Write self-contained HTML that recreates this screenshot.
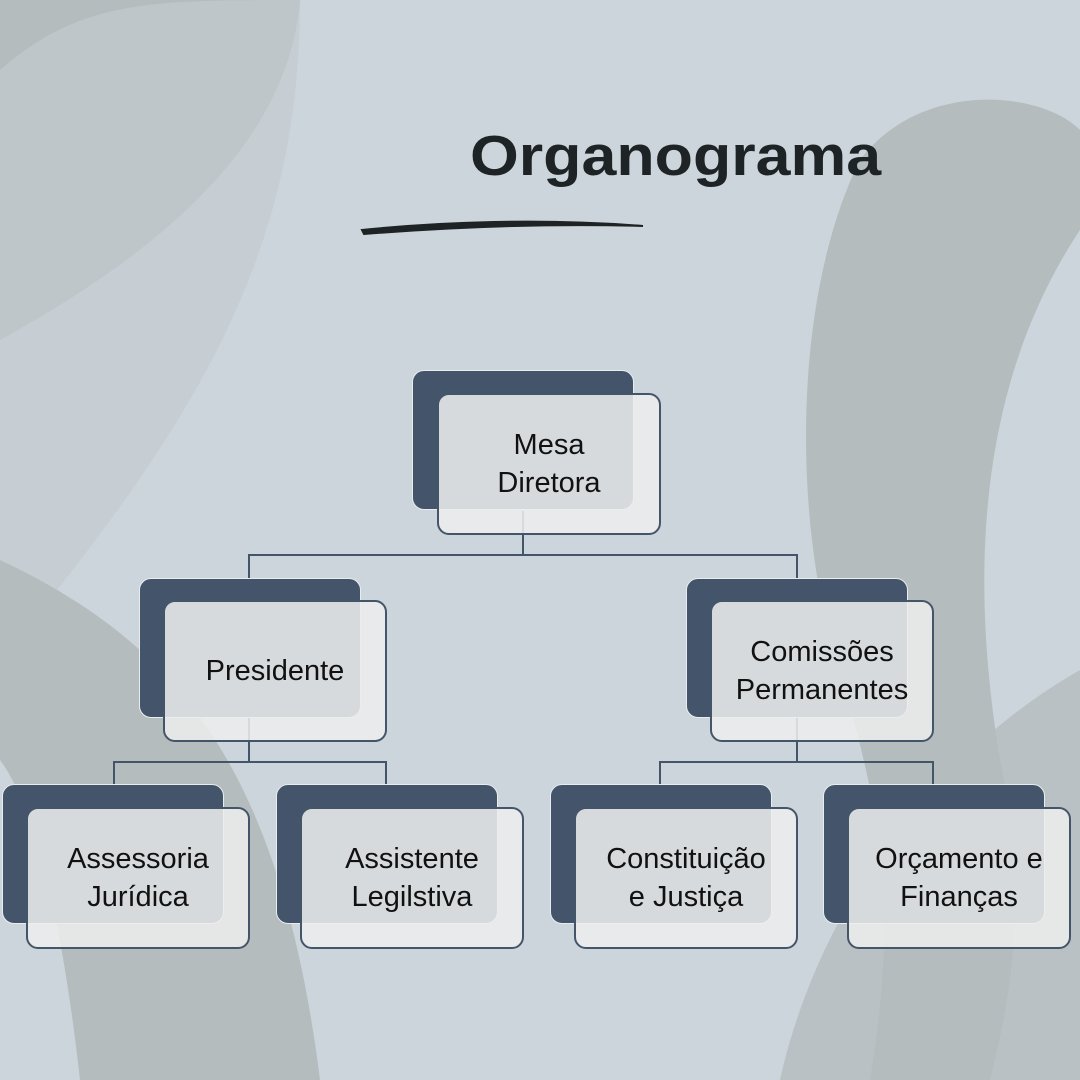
<!DOCTYPE html>
<html><head><meta charset="utf-8"><style>
html,body{margin:0;padding:0}
body{width:1080px;height:1080px;position:relative;overflow:hidden;background:#cdd5dc;font-family:"Liberation Sans",sans-serif}
svg{position:absolute;left:0;top:0}
.d{position:absolute;width:222px;height:140px;background:#44546a;border:1.5px solid #e8ecef;border-radius:12px;box-sizing:border-box}
.l{position:absolute;width:224px;height:142px;background:rgba(236,237,237,0.88);border:2px solid #445569;border-radius:12px;box-sizing:border-box;display:flex;align-items:center;justify-content:center;text-align:center;font-size:29px;line-height:38px;color:#111}
.t{position:absolute;left:470px;top:123px;font-size:57px;font-weight:bold;color:#1e2325;letter-spacing:0;transform:scaleX(1.1);transform-origin:left}
</style></head><body>
<svg width="1080" height="1080">
<path d="M0,0 L300,0 C290,120 200,230 0,340 Z" fill="#b4bcbe"/>
<path d="M0,70 C80,0 150,0 300,0 C300,250 200,420 0,660 Z" fill="#c3cace" opacity="0.7"/>
<path d="M0,560 C170,640 280,760 320,1080 L80,1080 C60,900 30,800 0,760 Z" fill="#b4bcbe"/>
<path d="M860,160 C920,80 1040,90 1080,130 L1080,230 C1000,350 960,520 1000,760 C1030,900 1010,1000 990,1080 L870,1080 C900,900 880,800 830,640 C790,480 800,280 860,160 Z" fill="#b4bcbe"/>
<path d="M780,1080 C820,900 940,750 1080,670 L1080,1080 Z" fill="#b4bcbe" opacity="0.8"/>
<path d="M362,230 C440,222 540,218 643,226 C540,223 440,228 364,234 Z" fill="#1e2325" stroke="#1e2325" stroke-width="2"/>
<g stroke="#445569" stroke-width="2" fill="none">
<path d="M523,511 V555 M249,578 V555 H797 V578"/>
<path d="M249,717 V762 M114,784 V762 H386 V784"/>
<path d="M797,717 V762 M660,784 V762 H933 V784"/>
</g>
</svg>
<div class="t">Organograma</div>
<div class="d" style="left:412px;top:370px"></div><div class="l" style="left:437px;top:393px">Mesa<br>Diretora</div>
<div class="d" style="left:139px;top:578px"></div><div class="l" style="left:163px;top:600px">Presidente</div>
<div class="d" style="left:686px;top:578px"></div><div class="l" style="left:710px;top:600px">Comissões<br>Permanentes</div>
<div class="d" style="left:2px;top:784px"></div><div class="l" style="left:26px;top:807px">Assessoria<br>Jurídica</div>
<div class="d" style="left:276px;top:784px"></div><div class="l" style="left:300px;top:807px">Assistente<br>Legilstiva</div>
<div class="d" style="left:550px;top:784px"></div><div class="l" style="left:574px;top:807px">Constituição<br>e Justiça</div>
<div class="d" style="left:823px;top:784px"></div><div class="l" style="left:847px;top:807px">Orçamento e<br>Finanças</div>
</body></html>
